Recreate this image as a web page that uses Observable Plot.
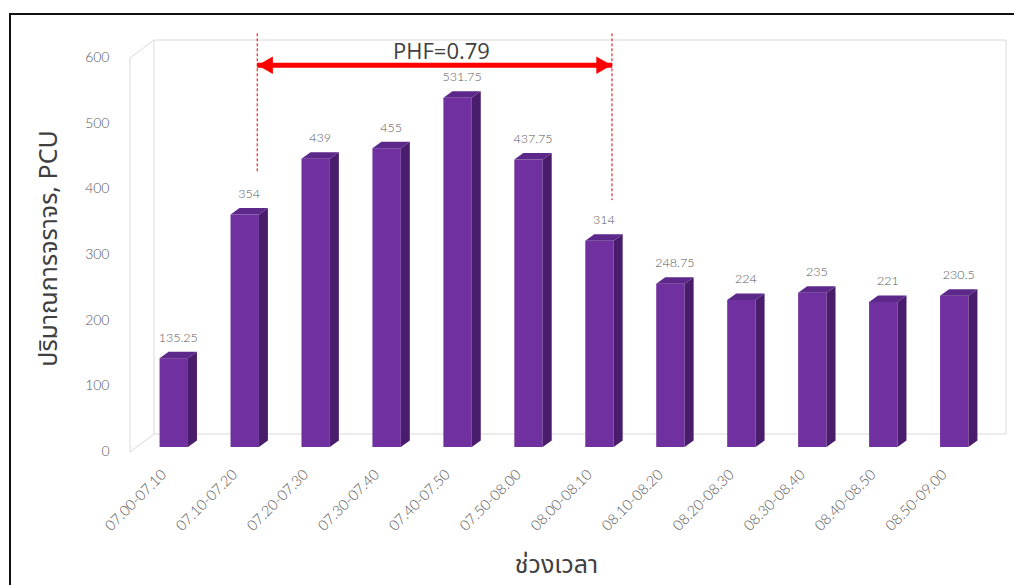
<!DOCTYPE html>
<html>
<head>
<meta charset="utf-8">
<script src="https://cdn.jsdelivr.net/npm/d3@7"></script>
<script src="https://cdn.jsdelivr.net/npm/@observablehq/plot@0.6"></script>
<style>
html, body { margin: 0; padding: 0; background: #fff; }
#chart { position: absolute; left: 0; top: 0; }
#border { position: absolute; left: 9px; top: 13px; width: 1100px; height: 640px; border: 2px solid #111; }
</style>
</head>
<body>
<div id="chart"></div>
<div id="border"></div>
<script>
// ---- data ----
const categories = ["07.00-07.10", "07.10-07.20", "07.20-07.30", "07.30-07.40", "07.40-07.50", "07.50-08.00",
                    "08.00-08.10", "08.10-08.20", "08.20-08.30", "08.30-08.40", "08.40-08.50", "08.50-09.00"];
const volumes = [135.25, 354, 439, 455, 531.75, 437.75, 314, 248.75, 224, 235, 221, 230.5];
const yTicks = [0, 100, 200, 300, 400, 500, 600];
const yTitle = "ปริมาณการจราจร, PCU";
const xTitle = "ช่วงเวลา";
const phfLabel = "PHF=0.79";
const peakStart = "07.10-07.20";
const peakEnd = "08.00-08.10";
const peakLabelAt = "07.40-07.50";

const data = categories.map((c, i) => ({period: c, pcu: volumes[i]}));

const FRONT = "#7030a0", SIDE = "#4a1c6c", TOP = "#5c2889", WALL = "#d9d9d9";
const DX3 = 9, DY3 = 6.5;

// back wall + left wall of the 3D box, positioned with the plot's scales
function walls(index, scales, values, dim) {
  const y = scales.y;
  const y0 = y(0), yM = y(600);
  const fl = dim.marginLeft + 13, bl = dim.marginLeft + 37, br = dim.width - dim.marginRight - 5;
  const g = d3.create("svg:g").attr("fill", "none").attr("stroke", WALL).attr("stroke-width", 1);
  g.append("path").attr("d",
    `M${bl},${yM - 13}H${br}V${y0 - 13}H${bl}Z` +
    `M${fl},${yM + 5}L${bl},${yM - 13}` +
    `M${fl},${y0 + 5}L${bl},${y0 - 13}` +
    `M${fl},${yM + 5}V${y0 + 5}`);
  return g.node();
}

// side and top faces of the 3D bars
function faces(index, scales) {
  const x = scales.x, y = scales.y;
  const bw = x.bandwidth();
  const g = d3.create("svg:g");
  for (const d of data) {
    const xl = x(d.period), xr = xl + bw, yt = y(d.pcu), y0 = y(0);
    g.append("path").attr("fill", SIDE)
      .attr("d", `M${xr},${yt}L${xr + DX3},${yt - DY3}L${xr + DX3},${y0 - DY3}L${xr},${y0}Z`);
    g.append("path").attr("fill", TOP)
      .attr("d", `M${xl},${yt}L${xl + DX3},${yt - DY3}L${xr + DX3},${yt - DY3}L${xr},${yt}Z`);
  }
  return g.node();
}

const FONT = "Lato, 'Open Sans', 'Noto Sans', sans-serif";
const THAI = "'Noto Sans Thai', 'Tahoma', 'Noto Sans', sans-serif";
const LABEL = "#595959";

const chart = Plot.plot({
  width: 1014,
  height: 585,
  marginLeft: 117,
  marginRight: 3,
  marginTop: 53,
  marginBottom: 138,
  style: {fontFamily: FONT, background: "transparent", overflow: "visible"},
  x: {type: "band", domain: categories, padding: 0.6, round: false, axis: null},
  y: {domain: [0, 600], axis: null},
  marks: [
    walls,
    Plot.barY(data, {x: "period", y: "pcu", fill: FRONT}),
    faces,
    // value labels
    Plot.text(data, {x: "period", y: "pcu", text: d => String(d.pcu), dy: -21, dx: 4,
      fill: LABEL, fontSize: 12.5, fontWeight: 300}),
    // y tick labels
    Plot.text(yTicks, {y: d => d, text: d => String(d), frameAnchor: "left", textAnchor: "end",
      dx: -8, dy: 4, fill: LABEL, fontSize: 14, fontWeight: 300}),
    // x tick labels
    Plot.text(categories, {x: d => d, text: d => d, frameAnchor: "bottom", rotate: -45, textAnchor: "end",
      dx: -7, dy: 28, fill: LABEL, fontSize: 14.5, fontWeight: 300}),
    // axis titles
    Plot.text([yTitle], {text: d => d, frameAnchor: "left", rotate: -90, textAnchor: "middle", dx: -69, dy: -2,
      fill: "#404040", fontSize: 25, fontFamily: THAI}),
    Plot.text([xTitle], {text: d => d, frameAnchor: "bottom", textAnchor: "middle", dx: -8, dy: 125,
      fill: "#404040", fontSize: 25, fontFamily: THAI}),
    // peak-hour annotation
    Plot.ruleX([peakStart], {x: d => d, y1: 630, y2: 417, dx: 12, stroke: "#e00000",
      strokeWidth: 1, strokeDasharray: "3,2"}),
    Plot.ruleX([peakEnd], {x: d => d, y1: 630, y2: 376, dx: 12, stroke: "#e00000",
      strokeWidth: 1, strokeDasharray: "3,2"}),
    Plot.line([peakStart, peakEnd], {x: d => d, y: () => 582, dx: 12, stroke: "#ff0000",
      strokeWidth: 5, strokeLinecap: "butt"}),
    Plot.dot([peakStart], {x: d => d, y: () => 582, symbol: "triangle", rotate: -90, r: 6.5,
      fill: "#ff0000", stroke: null, dx: 22.6}),
    Plot.dot([peakEnd], {x: d => d, y: () => 582, symbol: "triangle", rotate: 90, r: 6.5,
      fill: "#ff0000", stroke: null, dx: 1.4}),
    Plot.text([phfLabel], {x: () => peakLabelAt, y: () => 602, text: d => d, dx: -16.6,
      fill: "#404040", fontSize: 22, fontFamily: "'Open Sans', sans-serif"})
  ]
});
document.getElementById("chart").append(chart);
</script>
</body>
</html>
